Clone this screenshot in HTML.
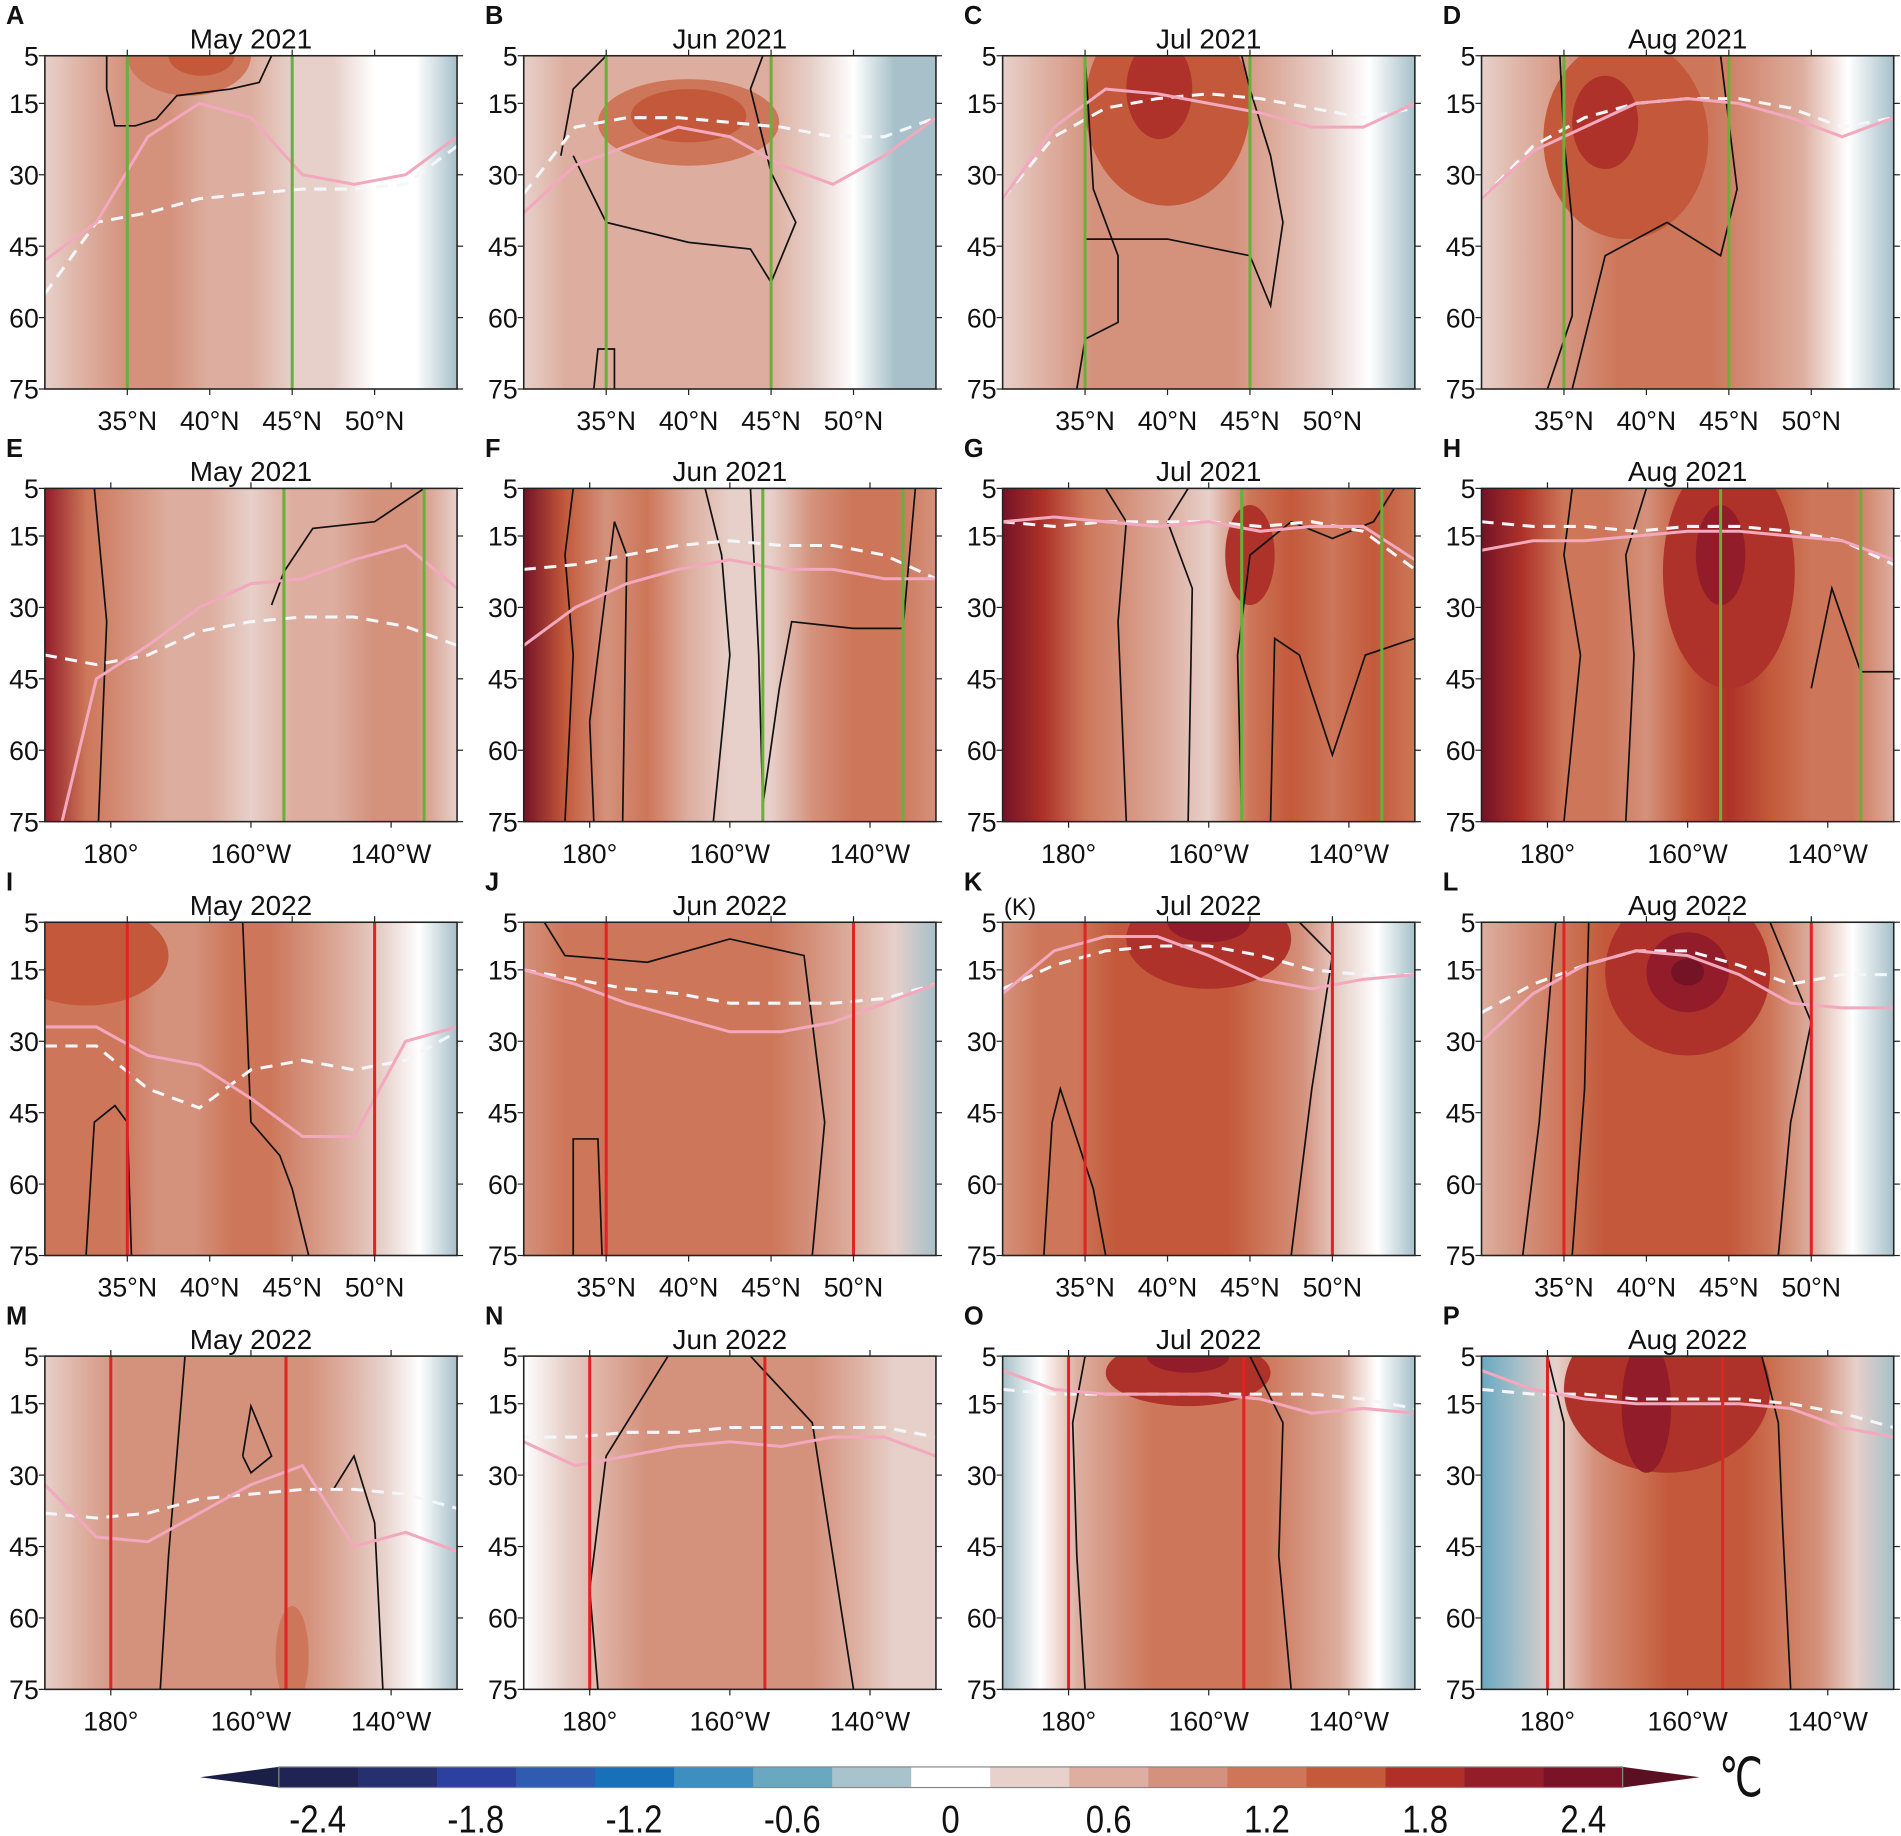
<!DOCTYPE html>
<html><head><meta charset="utf-8"><style>
html,body{margin:0;padding:0;background:#fff;overflow:hidden;width:1901px;height:1836px}
svg{display:block}
text{font-family:"Liberation Sans",sans-serif;fill:#111}
</style></head><body>
<svg id="s" width="1901" height="1836" viewBox="0 0 1568 1515" preserveAspectRatio="none" xmlns="http://www.w3.org/2000/svg"></svg>
<script>
const C={0:'#ffffff',1:'#e7d0ca',2:'#ddae9f',3:'#d4917c',4:'#cd7659',5:'#c3593a',6:'#ae3229',7:'#921c29',8:'#741226',b:'#a7c0c9',b2:'#6aa8c2'};
const X0=[37,432,827,1222],Y0=[46,403,761,1119],W=340,H=275;
const letters='ABCDEFGHIJKLMNOP';
const titles=['May 2021','Jun 2021','Jul 2021','Aug 2021','May 2021','Jun 2021','Jul 2021','Aug 2021','May 2022','Jun 2022','Jul 2022','Aug 2022','May 2022','Jun 2022','Jul 2022','Aug 2022'];
const stripes=[
[1,2,3,3,2,2,1,1,0,0,'b'],
[1,2,2,2,2,2,2,1,0,'b','b'],
[1,2,3,3,3,3,2,1,0,'b'],
[1,2,3,4,4,4,3,2,0,'b'],
[7,4,3,2,2,1,2,2,3,3,1],
[8,5,3,4,2,1,1,3,4,4,3],
[8,6,4,3,2,1,4,5,4,5,4],
[8,6,4,4,3,5,6,5,4,4,2],
[4,4,4,3,3,4,4,3,2,1,0,'b'],
[3,4,4,4,4,4,4,3,2,1,'b'],
[3,4,4,5,5,5,5,4,3,1,0,'b'],
[2,3,4,5,5,5,5,4,2,0,'b'],
[1,2,3,3,3,3,3,3,2,1,0,'b'],
[0,1,2,3,3,3,3,3,2,1,1],
['b',0,2,3,4,4,4,4,3,2,0,'b'],
['b2','b',1,3,4,5,5,5,4,3,1,'b']];
const blobs={0:[[0.35,0,0.15,0.12,4],[0.38,0,0.08,0.06,5]],1:[[0.4,0.2,0.22,0.13,4],[0.4,0.18,0.14,0.08,5]],2:[[0.4,0.15,0.2,0.3,5],[0.38,0.1,0.08,0.15,6]],3:[[0.35,0.25,0.2,0.3,5],[0.3,0.2,0.08,0.14,6]],
6:[[0.6,0.2,0.06,0.15,6]],7:[[0.6,0.25,0.16,0.35,6],[0.58,0.2,0.06,0.15,7]],8:[[0.1,0.1,0.2,0.15,5]],10:[[0.5,0.05,0.2,0.15,6],[0.5,0,0.1,0.06,7]],11:[[0.5,0.15,0.2,0.25,6],[0.5,0.15,0.1,0.12,7],[0.5,0.15,0.04,0.04,8]],
14:[[0.45,0.05,0.2,0.1,6],[0.45,0,0.1,0.05,7]],15:[[0.45,0.1,0.25,0.25,6],[0.4,0.15,0.06,0.2,7]],12:[[0.6,0.9,0.04,0.15,4]],9:[[0.4,0.9,0.06,0.3,4]]};
const pink=[[48,40,22,15,18,30,32,30,22],[38,28,24,20,22,28,32,26,18],[35,20,12,13,15,17,20,20,15],[35,25,20,15,14,15,18,22,18],
[90,45,38,30,25,24,20,17,26],[38,30,25,22,20,22,22,24,24],[12,11,12,13,12,14,13,13,20],[18,16,16,15,14,14,15,16,20],
[27,27,33,35,42,50,50,30,27],[15,18,22,25,28,28,26,22,18],[20,11,8,8,12,17,19,17,16],[30,20,14,11,12,16,22,23,23],
[32,43,44,38,32,28,45,42,46],[23,28,26,24,23,24,22,22,26],[8,12,13,13,13,14,17,16,17],[8,12,14,15,15,15,16,20,22]];
const dash=[[55,40,38,35,34,33,33,32,24],[34,20,18,18,19,20,22,22,18],[35,22,16,14,13,14,16,18,16],[35,24,18,15,14,14,16,20,18],
[40,42,40,35,33,32,32,34,38],[22,21,19,17,16,17,17,19,24],[12,13,12,12,12,13,12,14,22],[12,13,13,14,13,13,14,16,21],
[31,31,40,44,36,34,36,34,28],[15,17,19,20,22,22,22,21,18],[19,14,11,10,10,12,15,16,16],[24,18,14,11,11,14,18,16,16],
[38,39,38,35,34,33,33,34,37],[22,22,21,21,20,20,20,20,22],[12,13,13,13,13,13,13,14,16],[12,13,13,14,14,14,15,17,20]];
const cont={
0:[[[0.15,0],[0.15,0.1],[0.17,0.21],[0.22,0.21],[0.27,0.19],[0.32,0.12],[0.45,0.1],[0.52,0.08],[0.55,0]]],
1:[[[0.09,0.3],[0.12,0.1],[0.2,0]],[[0.12,0.3],[0.2,0.5],[0.4,0.56],[0.55,0.58],[0.6,0.68],[0.66,0.5],[0.6,0.35],[0.55,0.1],[0.58,0]],[[0.17,1],[0.18,0.88],[0.22,0.88],[0.22,1]]],
2:[[[0.18,1],[0.2,0.85],[0.28,0.8],[0.28,0.6],[0.22,0.4],[0.2,0]],[[0.2,0.55],[0.4,0.55],[0.6,0.6],[0.65,0.75],[0.68,0.5],[0.65,0.3],[0.6,0.1],[0.58,0]]],
3:[[[0.16,1],[0.22,0.78],[0.22,0.5],[0.2,0.25],[0.19,0]],[[0.22,1],[0.3,0.6],[0.45,0.5],[0.58,0.6],[0.62,0.4],[0.6,0.2],[0.58,0]]],
4:[[[0.13,1],[0.15,0.4],[0.12,0]],[[0.55,0.35],[0.58,0.25],[0.65,0.12],[0.8,0.1],[0.92,0]]],
5:[[[0.1,1],[0.12,0.5],[0.1,0.2],[0.12,0]],[[0.17,1],[0.16,0.7],[0.2,0.3],[0.22,0.1],[0.25,0.2],[0.24,1]],[[0.46,1],[0.5,0.5],[0.48,0.2],[0.44,0]],[[0.55,0],[0.57,0.5],[0.58,0.95],[0.62,0.6],[0.65,0.4],[0.8,0.42],[0.92,0.42],[0.95,0]]],
6:[[[0.25,0],[0.3,0.1],[0.28,0.4],[0.3,1]],[[0.45,1],[0.46,0.3],[0.4,0.1],[0.45,0]],[[0.58,1],[0.57,0.5],[0.6,0.2],[0.7,0.1],[0.8,0.15],[0.9,0.1],[0.95,0]],[[0.65,1],[0.66,0.45],[0.72,0.5],[0.8,0.8],[0.88,0.5],[1,0.45]]],
7:[[[0.2,1],[0.24,0.5],[0.2,0.2],[0.22,0]],[[0.35,1],[0.37,0.5],[0.35,0.2],[0.4,0]],[[0.8,0.6],[0.85,0.3],[0.92,0.55],[1,0.55]]],
8:[[[0.1,1],[0.12,0.6],[0.17,0.55],[0.2,0.6],[0.21,1]],[[0.48,0],[0.5,0.6],[0.57,0.7],[0.6,0.8],[0.64,1]]],
9:[[[0.12,1],[0.12,0.65],[0.18,0.65],[0.19,1]],[[0.05,0],[0.1,0.1],[0.3,0.12],[0.5,0.05],[0.68,0.1],[0.73,0.6],[0.7,1]]],
10:[[[0.1,1],[0.12,0.6],[0.14,0.5],[0.22,0.8],[0.25,1]],[[0.7,1],[0.75,0.5],[0.8,0.1],[0.72,0]]],
11:[[[0.1,1],[0.14,0.6],[0.18,0]],[[0.22,1],[0.25,0.5],[0.26,0]],[[0.72,1],[0.75,0.6],[0.8,0.3],[0.7,0]]],
12:[[[0.28,1],[0.3,0.6],[0.34,0]],[[0.48,0.3],[0.5,0.15],[0.55,0.3],[0.5,0.35],[0.48,0.3]],[[0.7,0.4],[0.75,0.3],[0.8,0.5],[0.82,1]]],
13:[[[0.18,1],[0.16,0.7],[0.2,0.3],[0.3,0.1],[0.35,0]],[[0.55,0],[0.7,0.2],[0.75,0.6],[0.8,1]]],
14:[[[0.2,1],[0.18,0.6],[0.17,0.2],[0.2,0]],[[0.6,0],[0.68,0.2],[0.67,0.6],[0.7,1]]],
15:[[[0.2,1],[0.2,0.5],[0.2,0.2],[0.16,0]],[[0.75,1],[0.73,0.5],[0.72,0.2],[0.68,0]]]};
const vl=i=>{const r=Math.floor(i/4);if(r==0)return[[0.2,0.6],'#6aae3c'];if(r==1)return[[0.58,0.92],'#6aae3c'];if(r==2)return[[0.2,0.8],'#e02424'];return[[0.16,0.585],'#e02424'];};
let s='';
for(let i=0;i<16;i++){
 const x=X0[i%4],y=Y0[Math.floor(i/4)],r=Math.floor(i/4);
 const st=stripes[i],n=st.length;
 s+=`<defs><linearGradient id="g${i}" x1="0" x2="1" y1="0" y2="0">`;
 st.forEach((c,k)=>{s+=`<stop offset="${(k/(n-1)).toFixed(3)}" stop-color="${C[c]}"/>`;});
 s+=`</linearGradient><clipPath id="c${i}"><rect x="${x}" y="${y}" width="${W}" height="${H}"/></clipPath></defs>`;
 s+=`<g clip-path="url(#c${i})"><rect x="${x}" y="${y}" width="${W}" height="${H}" fill="url(#g${i})"/>`;
 (blobs[i]||[]).forEach(b=>{s+=`<ellipse cx="${x+b[0]*W}" cy="${y+b[1]*H}" rx="${b[2]*W}" ry="${b[3]*H}" fill="${C[b[4]]}"/>`;});
 (cont[i]||[]).forEach(l=>{s+=`<polyline points="${l.map(p=>(x+p[0]*W).toFixed(1)+','+(y+p[1]*H).toFixed(1)).join(' ')}" fill="none" stroke="#111" stroke-width="1.4"/>`;});
 const yy=v=>y+(v-5)/70*H;
 let p=pink[i].map((v,k)=>`${(x+k/8*W).toFixed(1)},${yy(v).toFixed(1)}`).join(' ');
 let d=dash[i].map((v,k)=>`${(x+k/8*W).toFixed(1)},${yy(v).toFixed(1)}`).join(' ');
 s+=`<polyline points="${d}" fill="none" stroke="#f4f6fa" stroke-width="2.5" stroke-dasharray="10,7"/>`;
 s+=`<polyline points="${p}" fill="none" stroke="#f2a8bd" stroke-width="2.5"/>`;
 const [xs,col]=vl(i);xs.forEach(f=>{s+=`<line x1="${x+f*W}" x2="${x+f*W}" y1="${y}" y2="${y+H}" stroke="${col}" stroke-width="2.5"/>`;});
 s+=`</g><rect x="${x}" y="${y}" width="${W}" height="${H}" fill="none" stroke="#222" stroke-width="1.3"/>`;
 [5,15,30,45,60,75].forEach(v=>{const ty=yy(v);s+=`<line x1="${x}" x2="${x-5}" y1="${ty}" y2="${ty}" stroke="#222"/><line x1="${x+W}" x2="${x+W+5}" y1="${ty}" y2="${ty}" stroke="#222"/><text x="${x-5}" y="${ty+8}" font-size="22" text-anchor="end">${v}</text>`;});
 const lat=(r%2==0);
 const xt=lat?[[0.2,'35°N'],[0.4,'40°N'],[0.6,'45°N'],[0.8,'50°N']]:[[0.16,'180°'],[0.5,'160°W'],[0.84,'140°W']];
 xt.forEach(t=>{const tx=x+t[0]*W;s+=`<line x1="${tx}" x2="${tx}" y1="${y+H}" y2="${y+H+5}" stroke="#222"/><line x1="${tx}" x2="${tx}" y1="${y}" y2="${y-5}" stroke="#222"/><text x="${tx}" y="${y+H+34}" font-size="22" text-anchor="middle">${t[1]}</text>`;});
 s+=`<text x="${x+W/2}" y="${y-6}" font-size="23" text-anchor="middle">${titles[i]}</text>`;
 s+=`<text x="${x-32}" y="${y-26}" font-size="21" font-weight="bold">${letters[i]}</text>`;
}
s+=`<text x="828" y="755" font-size="20">(K)</text>`;
const cb=['#1f2454','#26306e','#2c40a0','#2f5cb0','#1870b8','#3d8fc0','#6aa8c2','#a8c3cc','#ffffff','#e8d0cb','#deafa0','#d4917d','#cf7558','#c45a3a','#b03028','#941d2a','#7a1228'];
const bx=230,bw=65.2,by=1458,bh=17;
s+=`<polygon points="165,${by+bh/2} ${bx},${by} ${bx},${by+bh}" fill="#1a1f48"/>`;
cb.forEach((c,k)=>{s+=`<rect x="${bx+k*bw}" y="${by}" width="${bw+0.5}" height="${bh}" fill="${c}"/>`;});
const ex=bx+17*bw;
s+=`<polygon points="${ex},${by} ${ex},${by+bh} 1402,${by+bh/2}" fill="#5a1020"/>`;
s+=`<rect x="${bx}" y="${by}" width="${17*bw}" height="${bh}" fill="none" stroke="#888" stroke-width="1"/>`;
const labs=['-2.4','-1.8','-1.2','-0.6','0','0.6','1.2','1.8','2.4'];
labs.forEach((l,k)=>{const lx=262+k*130.5;s+=`<text x="${lx}" y="1512" font-size="32" text-anchor="middle" transform="translate(${lx},0) scale(0.85,1) translate(${-lx},0)">${l}</text>`;});
s+=`<text x="0" y="0" font-size="40" transform="translate(1418,1482) scale(0.8,1.1)">℃</text>`;
document.getElementById('s').innerHTML=s;
</script>
</body></html>
